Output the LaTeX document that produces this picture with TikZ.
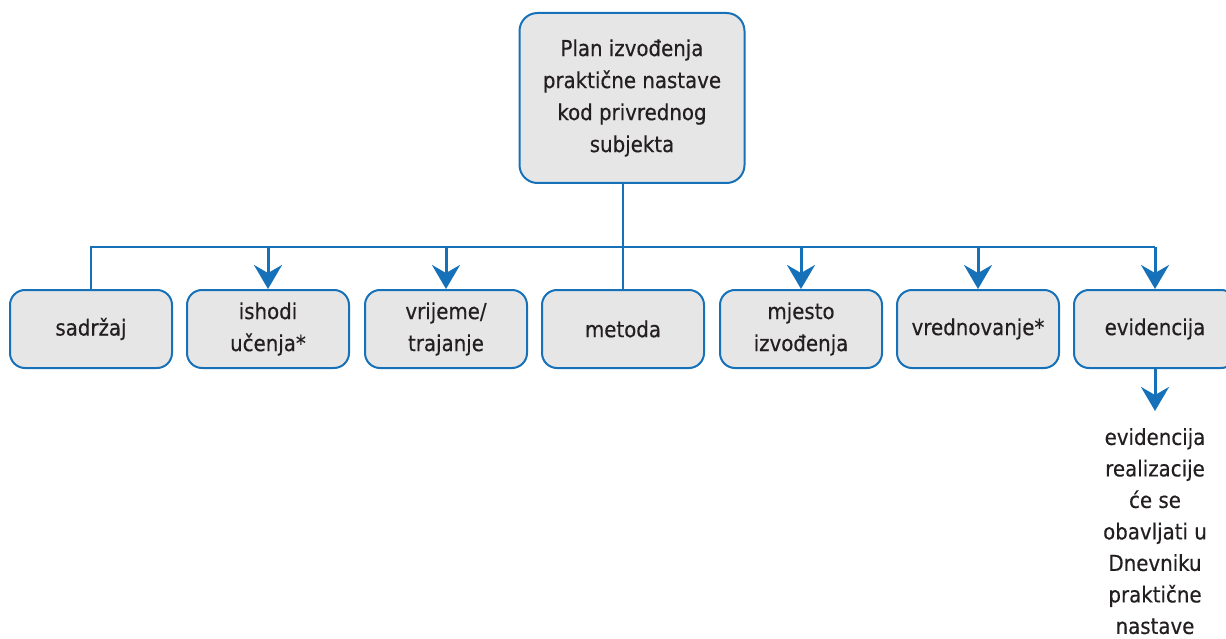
\documentclass[tikz,border=0pt]{standalone}
\usepackage{fontspec}
\setmainfont{DejaVu Sans Condensed}[FakeBold=0.4]
\usetikzlibrary{arrows.meta}
\definecolor{lineblue}{RGB}{22,113,185}
\definecolor{boxgray}{RGB}{230,230,230}
\definecolor{inkgray}{RGB}{35,31,32}
\begin{document}
\begin{tikzpicture}[x=1pt,y=-1pt,
  labeltext/.style={text=inkgray, font=\fontsize{22}{32}\selectfont, align=center},
  box/.style={labeltext, draw=lineblue, line width=2pt, fill=boxgray,
    rounded corners=15pt, minimum width=162pt, minimum height=78pt, inner sep=0pt},
  topbox/.style={box, rounded corners=18pt, minimum width=225pt, minimum height=170pt},
  busline/.style={draw=lineblue, line width=2pt},
  arrowline/.style={draw=lineblue, line width=3pt,
    -{Stealth[length=24pt,width=28pt,inset=8pt]}}]
\useasboundingbox (0,0) rectangle (1226,639);

% root node
\node[topbox] (plan) at (632,98) {Plan izvođenja\\praktične nastave\\kod privrednog\\subjekta};

% row of plan elements
\node[box] (sadrzaj) at (91,329)   {sadržaj};
\node[box] (ishodi)  at (268,329)  {ishodi\\učenja*};
\node[box] (vrijeme) at (446,329)  {vrijeme/\\trajanje};
\node[box] (metoda)  at (623,329)  {metoda};
\node[box] (mjesto)  at (801,329)  {mjesto\\izvođenja};
\node[box] (vredn)   at (978,329)  {vrednovanje*};
\node[box] (evid)    at (1155,329) {evidencija};

% note under the last element
\node[labeltext, font=\fontsize{22}{31.5}\selectfont, anchor=north, inner sep=0pt]
  (note) at (1155,428)
  {evidencija\\realizacije\\će se\\obavljati u\\Dnevniku\\praktične\\nastave};

% distribution bus
\coordinate (bus) at (0,247);
\draw[busline] (metoda.north |- plan.south) -- (metoda.north);
\draw[busline] (sadrzaj.north) -- (sadrzaj.north |- bus) -- (evid.north |- bus);

% arrows into the elements
\foreach \n in {ishodi,vrijeme,mjesto,vredn,evid}
  \draw[arrowline] (\n.north |- bus) -- (\n.north);

% arrow to the note
\draw[arrowline] (evid.south) -- ++(0,42) coordinate (noteend);
\end{tikzpicture}
\end{document}
